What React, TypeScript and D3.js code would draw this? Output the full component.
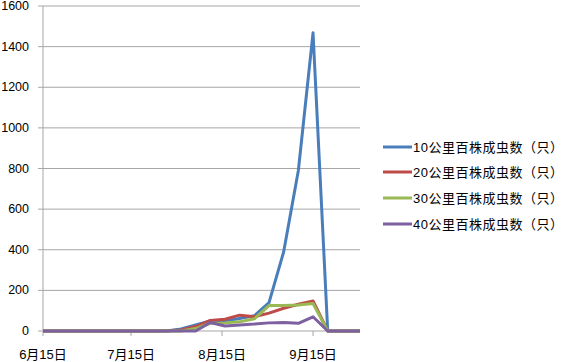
import React, { useEffect, useRef } from "react";
import * as d3 from "d3";

const dates = [
  "2012-06-15", "2012-06-25", "2012-07-05", "2012-07-15", "2012-07-22",
  "2012-07-27", "2012-08-01", "2012-08-06", "2012-08-11", "2012-08-16",
  "2012-08-21", "2012-08-26", "2012-08-31", "2012-09-05", "2012-09-10",
  "2012-09-15", "2012-09-20", "2012-09-25", "2012-10-01",
];

const km10 = [0, 0, 0, 0, 0, 0, 10, 30, 50, 50, 62, 75, 140, 390, 790, 1468, 0, 0, 0];
const km20 = [0, 0, 0, 0, 0, 0, 5, 22, 52, 58, 78, 70, 88, 112, 132, 148, 0, 0, 0];
const km30 = [0, 0, 0, 0, 0, 0, 0, 12, 38, 40, 45, 60, 125, 125, 128, 135, 0, 0, 0];
const km40 = [0, 0, 0, 0, 0, 0, 0, 0, 42, 25, 30, 34, 40, 42, 38, 70, 0, 0, 0];

const seriesNames = [
  "10公里百株成虫数（只）",
  "20公里百株成虫数（只）",
  "30公里百株成虫数（只）",
  "40公里百株成虫数（只）",
];
const seriesColors = ["#4a7ebb", "#be4b48", "#98b954", "#7d60a0"];

const xTicks = ["2012-06-15", "2012-07-15", "2012-08-15", "2012-09-15"];
const yTicks = [0, 200, 400, 600, 800, 1000, 1200, 1400, 1600];

const parse = d3.timeParse("%Y-%m-%d");

const App = () => {
  const ref = useRef<SVGSVGElement>(null);

  useEffect(() => {
    const svg = d3.select(ref.current);
    svg.selectAll("*").remove();
    const font = "'Liberation Sans', 'Noto Sans CJK SC', sans-serif";
    const left = 43;
    const right = 360;
    const top = 6;
    const bottom = 331;

    const x = d3
      .scaleTime()
      .domain([parse("2012-06-15")!, parse("2012-10-01")!])
      .range([left, right]);
    const y = d3.scaleLinear().domain([0, 1600]).range([bottom, top]);

    // grid lines + y labels
    svg
      .selectAll("line.grid")
      .data(yTicks)
      .enter()
      .append("line")
      .attr("x1", left - 5)
      .attr("x2", right)
      .attr("y1", (d) => y(d))
      .attr("y2", (d) => y(d))
      .attr("stroke", "#a6a6a6")
      .attr("stroke-width", 1);

    svg
      .selectAll("text.ylab")
      .data(yTicks)
      .enter()
      .append("text")
      .attr("x", 29)
      .attr("y", (d) => y(d))
      .attr("text-anchor", "end")
      .attr("dominant-baseline", "central")
      .attr("font-family", font)
      .attr("font-size", 12.5)
      .attr("fill", "#000")
      .text((d) => d);

    // y axis line
    svg
      .append("line")
      .attr("x1", left)
      .attr("x2", left)
      .attr("y1", top)
      .attr("y2", bottom)
      .attr("stroke", "#a6a6a6");

    // x ticks and labels
    svg
      .selectAll("line.xt")
      .data(xTicks)
      .enter()
      .append("line")
      .attr("x1", (d) => x(parse(d)!))
      .attr("x2", (d) => x(parse(d)!))
      .attr("y1", bottom)
      .attr("y2", bottom + 5)
      .attr("stroke", "#a6a6a6");

    svg
      .selectAll("text.xlab")
      .data(xTicks)
      .enter()
      .append("text")
      .attr("x", (d) => x(parse(d)!))
      .attr("y", 354)
      .attr("text-anchor", "middle")
      .attr("dominant-baseline", "central")
      .attr("font-family", font)
      .attr("font-size", 13)
      .text((d) => {
        const dt = parse(d)!;
        return `${dt.getMonth() + 1}月${dt.getDate()}日`;
      });

    const all = [km10, km20, km30, km40];
    const line = d3
      .line<number>()
      .x((_, i) => x(parse(dates[i])!))
      .y((d) => y(d));

    // draw later series first so blue ends on top? excel draws in order
    all.forEach((vals, i) => {
      svg
        .append("path")
        .attr("d", line(vals))
        .attr("fill", "none")
        .attr("stroke", seriesColors[i])
        .attr("stroke-width", 3)
        .attr("stroke-linejoin", "round");
    });

    // legend
    const legendY = [147, 172, 198, 224];
    seriesNames.forEach((name, i) => {
      svg
        .append("line")
        .attr("x1", 383)
        .attr("x2", 412)
        .attr("y1", legendY[i])
        .attr("y2", legendY[i])
        .attr("stroke", seriesColors[i])
        .attr("stroke-width", 3);
      svg
        .append("text")
        .attr("x", 413)
        .attr("y", legendY[i])
        .attr("dominant-baseline", "central")
        .attr("font-family", font)
        .attr("font-size", 13)
        .attr("textLength", 150)
        .attr("lengthAdjust", "spacing")
        .text(name);
    });
  }, []);

  return (
    <svg
      ref={ref}
      width={567}
      height={362}
      style={{ position: "absolute", left: 0, top: 0, background: "#fff" }}
    ></svg>
  );
};

export default App;
